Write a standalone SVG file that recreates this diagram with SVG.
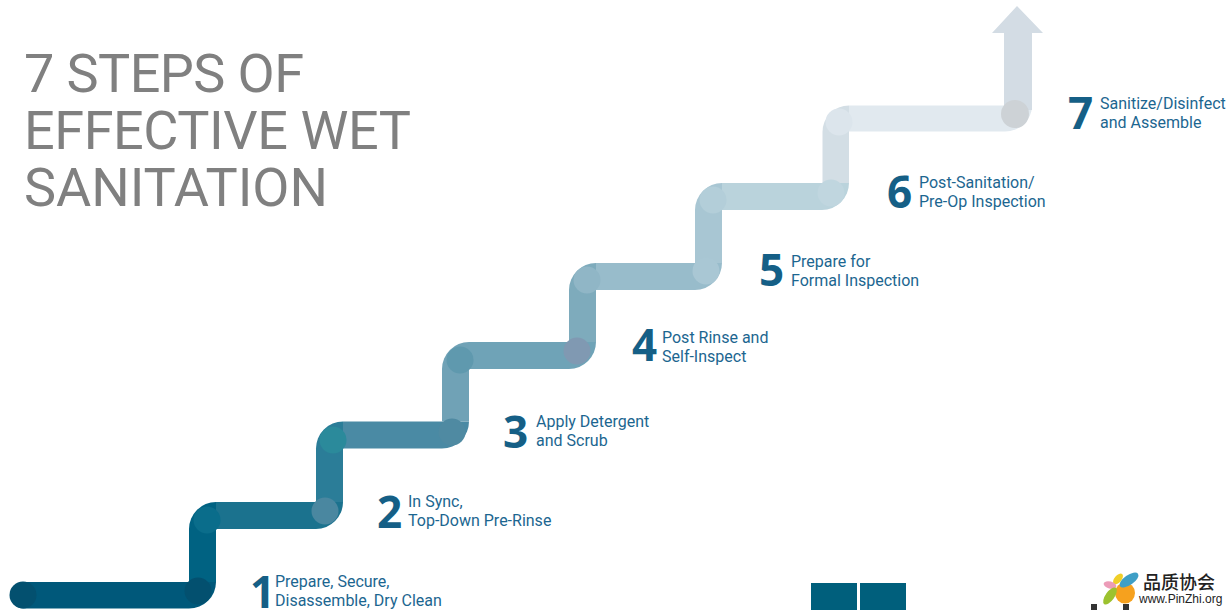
<svg xmlns="http://www.w3.org/2000/svg" width="1226" height="610" viewBox="0 0 1226 610">
<style>
.title{font:400 54px Roboto,"Liberation Sans",sans-serif;fill:#808080}
.num{font:700 44px "Open Sans","Liberation Sans",sans-serif;fill:#155f86}
.lbl{font:400 16px Roboto,"Liberation Sans",sans-serif;fill:#1c6690}
</style>
<rect width="1226" height="610" fill="#fff"/>
<g id="title"><text class="title" x="24" y="92" textLength="280" lengthAdjust="spacing">7 STEPS OF</text><text class="title" x="24" y="149" textLength="387" lengthAdjust="spacing">EFFECTIVE WET</text><text class="title" x="24" y="206" textLength="304" lengthAdjust="spacing">SANITATION</text></g>
<g id="connectors">
<path fill="#00587a" d="M23.500 582H216A27 26.500 0 0 1 189 608.500H23.500A13.250 13.250 0 0 1 23.500 582Z"/>
<path fill="#006282" d="M189 582V529A27 27 0 0 1 216 502V582Z"/>
<path fill="#1b728e" d="M216 502H343A27 27 0 0 1 316 529H216Z"/>
<path fill="#2b7d98" d="M316 502V448.500A27 27 0 0 1 343 421.500V502Z"/>
<path fill="#4a8aa4" d="M343 421.500H469A27 27 0 0 1 442 448.500H343Z"/>
<path fill="#70a2b6" d="M442 421.500V369A27 27 0 0 1 469 342V421.500Z"/>
<path fill="#6fa3b7" d="M469 342H596A27 27 0 0 1 569 369H469Z"/>
<path fill="#7eabbc" d="M569 342V290A27 27 0 0 1 596 263V342Z"/>
<path fill="#98bccb" d="M596 263H722A27 27 0 0 1 695 290H596Z"/>
<path fill="#a8c6d3" d="M695 263V210A27 27 0 0 1 722 183V263Z"/>
<path fill="#bad3dc" d="M722 183H849A27 27 0 0 1 822 210H722Z"/>
<path fill="#d3dee5" d="M822.500 183V132A26.500 26.500 0 0 1 849 105.500V183Z"/>
<path fill="#e1e9ef" d="M849 105.500H1032A27 26 0 0 1 1005 131.500H849Z"/>
<path fill="#d3dce4" d="M1004 110V33H992L1017 6L1043 33H1032V110Z"/>
</g>
<g id="joints">
<circle cx="23" cy="595" r="13.500" fill="#03506f"/>
<circle cx="198" cy="591" r="13.500" fill="#03506f"/>
<circle cx="207" cy="520" r="13.500" fill="#0a6d8b"/>
<circle cx="325" cy="511" r="13.500" fill="#4a87a0"/>
<circle cx="333" cy="440" r="13.500" fill="#2b8a9b"/>
<circle cx="452" cy="432" r="13.500" fill="#4f8aa2"/>
<circle cx="460" cy="360" r="13.500" fill="#5f99ae"/>
<circle cx="577" cy="351" r="13.500" fill="#8099b2"/>
<circle cx="587" cy="280" r="13.500" fill="#90b6c6"/>
<circle cx="706" cy="271" r="13.500" fill="#a9c7d4"/>
<circle cx="713" cy="200" r="13.500" fill="#b3ced9"/>
<circle cx="831" cy="193" r="13.500" fill="#c0d6df"/>
<circle cx="839" cy="122" r="13.500" fill="#dce5ec"/>
<circle cx="1015" cy="114" r="14" fill="#cdd2d6"/>
</g>
<g id="step1"><text class="num" x="250" y="608">1</text><text class="lbl" x="275" y="587">Prepare, Secure,</text><text class="lbl" x="275" y="606">Disassemble, Dry Clean</text></g>
<g id="step2"><text class="num" x="377" y="528">2</text><text class="lbl" x="408" y="507">In Sync,</text><text class="lbl" x="408" y="526">Top-Down Pre-Rinse</text></g>
<g id="step3"><text class="num" x="503" y="448">3</text><text class="lbl" x="536" y="427">Apply Detergent</text><text class="lbl" x="536" y="446">and Scrub</text></g>
<g id="step4"><text class="num" x="632" y="361">4</text><text class="lbl" x="662" y="343">Post Rinse and</text><text class="lbl" x="662" y="362">Self-Inspect</text></g>
<g id="step5"><text class="num" x="759" y="286">5</text><text class="lbl" x="791" y="267">Prepare for</text><text class="lbl" x="791" y="286">Formal Inspection</text></g>
<g id="step6"><text class="num" x="887" y="208">6</text><text class="lbl" x="919" y="188">Post-Sanitation/</text><text class="lbl" x="919" y="207">Pre-Op Inspection</text></g>
<g id="step7"><text class="num" x="1068" y="129">7</text><text class="lbl" x="1100" y="109">Sanitize/Disinfect</text><text class="lbl" x="1100" y="128">and Assemble</text></g>
<g id="footer-blocks"><rect x="811" y="583" width="46" height="27" fill="#005f7c"/><rect x="860" y="583" width="46" height="27" fill="#005f7c"/></g>
<g id="logo">
<rect x="1091" y="604" width="6" height="6" fill="#333"/><rect x="1123" y="604" width="6" height="6" fill="#333"/>
<ellipse cx="1125" cy="593" rx="10" ry="10.500" fill="#f6a11e"/>
<ellipse cx="1129" cy="580" rx="11" ry="5" fill="#3f9fc6" transform="rotate(-35 1129 580)"/>
<ellipse cx="1118" cy="579" rx="3.500" ry="6.500" fill="#f0cf28" transform="rotate(40 1118 579)"/>
<ellipse cx="1110" cy="585" rx="6.500" ry="3.500" fill="#ec9cb8" transform="rotate(15 1110 585)"/>
<ellipse cx="1110" cy="596" rx="4.500" ry="10" fill="#9cc22f" transform="rotate(35 1110 596)"/>
<text x="1143" y="589" style="font:500 18px 'Noto Sans CJK SC',sans-serif;fill:#222">品质协会</text>
<text x="1139" y="603" style="font:400 12px 'Liberation Sans',sans-serif;fill:#222">www.PinZhi.org</text>
</g>
</svg>
